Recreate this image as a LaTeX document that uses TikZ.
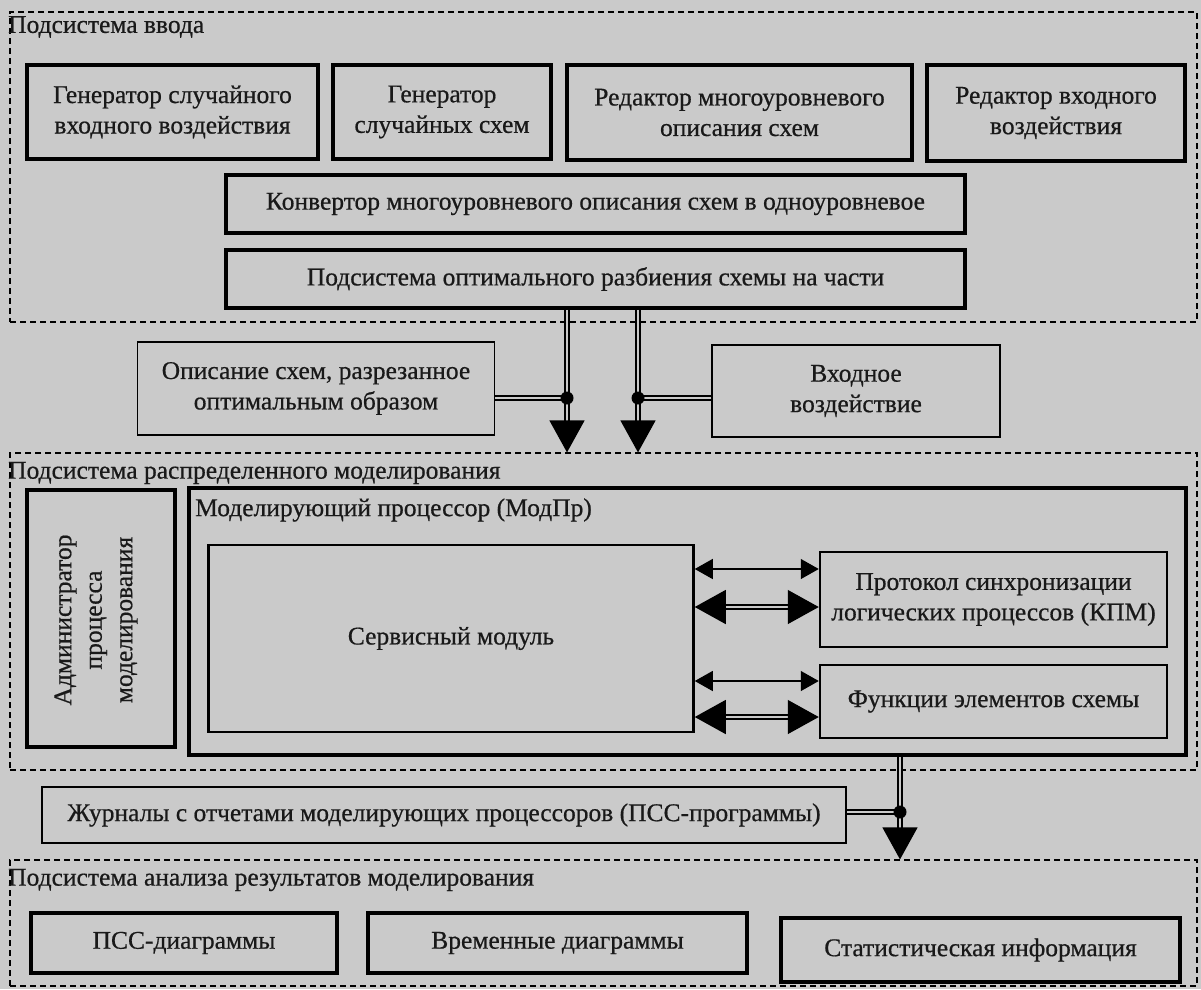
\documentclass[tikz,border=0pt]{standalone}
\usepackage{fontspec}
\setmainfont{Liberation Serif}[FakeBold=0.6]
\usetikzlibrary{arrows.meta}
\definecolor{bg}{RGB}{202,202,202}
\definecolor{ink}{RGB}{25,25,25}
\begin{document}
\begin{tikzpicture}[x=1pt,y=-1pt,
  font=\fontsize{25.5}{30.5}\selectfont, text=ink,
  box/.style={draw, rectangle, align=center, inner sep=0pt},
  heavy/.style={box, line width=4.5pt},
  medium/.style={box, line width=3.5pt},
  light/.style={box, line width=2.5pt},
  thin/.style={box, line width=1.5pt},
  frame/.style={draw, rectangle, inner sep=0pt, line width=1.2pt, dash pattern=on 6pt off 4pt},
  lbl/.style={anchor=west, inner sep=0pt},
  dot/.style={circle, fill=black, inner sep=0pt, minimum size=13pt},
  dbl/.style={draw, line width=1.3pt, double=bg, double distance=2.5pt},
  bigarr/.style={dbl, -{Triangle[length=32pt,width=35pt]}},
  bigboth/.style={dbl, {Triangle[length=31pt,width=34pt]}-{Triangle[length=31pt,width=34pt]}},
  smallboth/.style={draw, line width=1.3pt, {Triangle[length=18pt,width=20pt]}-{Triangle[length=18pt,width=20pt]}}
]
\fill[bg] (0,0) rectangle (1201,989);
\useasboundingbox (0,0) rectangle (1201,989);

% ---------- Subsystem 1 ----------
\node[frame, minimum width=1187pt, minimum height=310pt] (f1) at (603.5,167) {};
\node[lbl] (f1l) at (8,27) {Подсистема ввода};
\node[heavy, minimum width=291pt, minimum height=94pt] (genA) at (172.5,112) {Генератор случайного\\входного воздействия};
\node[heavy, minimum width=218pt, minimum height=94pt] (genB) at (442,112) {Генератор\\случайных схем};
\node[heavy, minimum width=345pt, minimum height=95pt] (redC) at (739.5,112.5) {Редактор многоуровневого\\описания схем};
\node[heavy, minimum width=258pt, minimum height=96pt] (redD) at (1056,113) {Редактор входного\\воздействия};
\node[medium, minimum width=739pt, minimum height=58pt] (conv) at (595.5,204) {Конвертор многоуровневого описания схем в одноуровневое};
\node[medium, minimum width=739pt, minimum height=58pt] (optim) at (595.5,279) {Подсистема оптимального разбиения схемы на части};

% ---------- between ----------
\node[thin, minimum width=357pt, minimum height=93pt] (opis) at (316,388.5) {Описание схем, разрезанное\\оптимальным образом};
\node[thin, minimum width=288pt, minimum height=92pt] (vhod) at (856,391) {Входное\\воздействие};

% ---------- Subsystem 2 ----------
\node[frame, minimum width=1187pt, minimum height=317pt] (f2) at (603.5,611.5) {};
\node[lbl] (f2l) at (8,473) {Подсистема распределенного моделирования};
\node[medium, minimum width=148pt, minimum height=257pt] (admin) at (101,618.5) {};
\node[rotate=90, align=center, inner sep=0pt] (admint) at (96,620) {Администратор\\процесса\\моделирования};
\node[heavy, minimum width=997pt, minimum height=267pt] (modpr) at (687.5,621.5) {};
\node[lbl] (modprl) at (195,510) {Моделирующий процессор (МодПр)};
\node[light, minimum width=485pt, minimum height=187pt] (serv) at (451,638.5) {Сервисный модуль};
\node[light, minimum width=347pt, minimum height=95pt] (kpm) at (993.5,599.5) {Протокол синхронизации\\логических процессов (КПМ)};
\node[light, minimum width=347pt, minimum height=73pt] (func) at (993.5,701.5) {Функции элементов схемы};

% ---------- journal ----------
\node[thin, line width=2pt, minimum width=804pt, minimum height=56pt] (jour) at (444,815) {Журналы с отчетами моделирующих процессоров (ПСС-программы)};

% ---------- Subsystem 3 ----------
\node[frame, minimum width=1187pt, minimum height=126pt] (f3) at (603.5,923) {};
\node[lbl] (f3l) at (8,880) {Подсистема анализа результатов моделирования};
\node[medium, minimum width=306pt, minimum height=60pt] (pss) at (184,943) {ПСС-диаграммы};
\node[medium, minimum width=379pt, minimum height=60pt] (vrem) at (557.5,943) {Временные диаграммы};
\node[heavy, minimum width=399pt, minimum height=64pt] (stat) at (980.5,950) {Статистическая информация};

% ---------- connectors ----------
\coordinate (j1) at (567,398);
\coordinate (j2) at (638,398);
\coordinate (j3) at (900,812);
\draw[dbl] (opis.east |- j1) -- (j1);
\draw[dbl] (vhod.west |- j2) -- (j2);
\draw[bigarr] (optim.south -| j1) -- (f2.north -| j1);
\draw[bigarr] (optim.south -| j2) -- (f2.north -| j2);
\node[dot] (d1) at (j1) {};
\node[dot] (d2) at (j2) {};

\coordinate (a1) at (0,569);
\coordinate (a2) at (0,607);
\coordinate (a3) at (0,681);
\coordinate (a4) at (0,717);
\draw[smallboth] (serv.east |- a1) -- (kpm.west |- a1);
\draw[bigboth] (serv.east |- a2) -- (kpm.west |- a2);
\draw[smallboth] (serv.east |- a3) -- (func.west |- a3);
\draw[bigboth] (serv.east |- a4) -- (func.west |- a4);

\draw[dbl] (jour.east |- j3) -- (j3);
\draw[bigarr] (modpr.south -| j3) -- (f3.north -| j3);
\node[dot] (d3) at (j3) {};
\end{tikzpicture}
\end{document}
